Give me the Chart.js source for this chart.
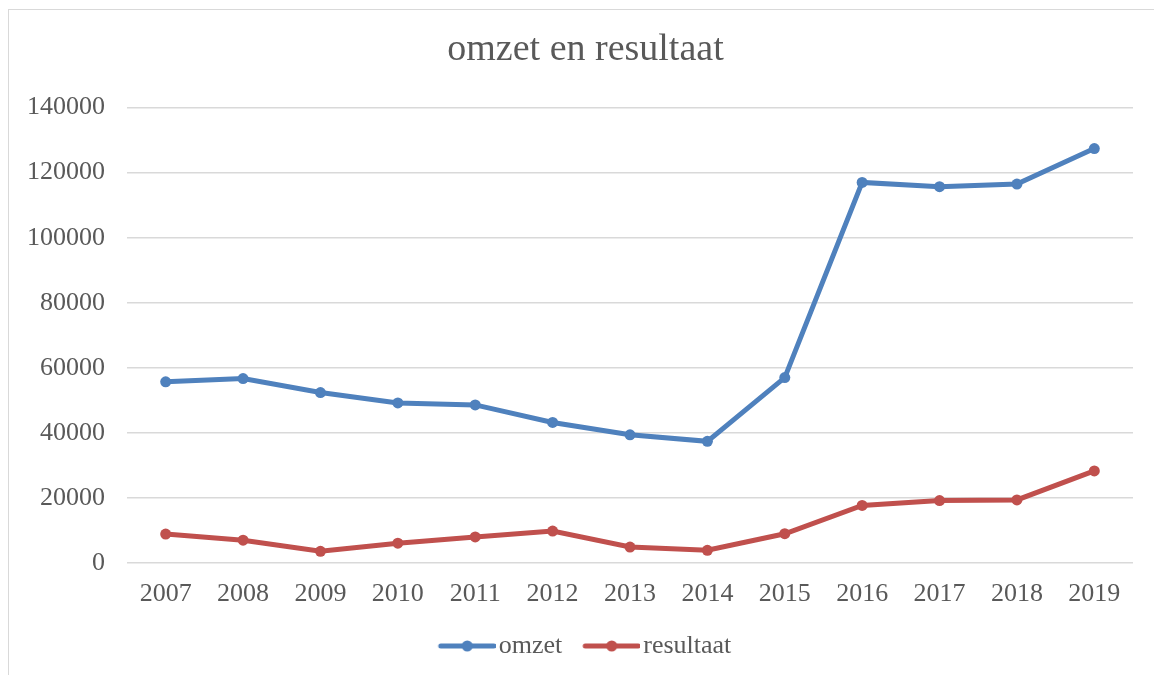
<!DOCTYPE html>
<html>
<head>
<meta charset="utf-8">
<script src="https://cdn.jsdelivr.net/npm/chart.js@4/dist/chart.umd.min.js"></script>
<style>
  html, body { margin: 0; padding: 0; background: #fff; overflow: hidden; }
  #wrap { position: relative; width: 1154px; height: 675px; overflow: hidden; }
  #frame { position: absolute; left: 8px; top: 9px; width: 1200px; height: 700px; border: 1px solid #d9d9d9; box-sizing: border-box; }
  canvas { position: absolute; left: 0; top: 0; }
</style>
</head>
<body>
<div id="wrap">
  <div id="frame"></div>
  <canvas id="c" width="1154" height="675"></canvas>
</div>
<script>
const titleText = "omzet en resultaat";
const years = ["2007","2008","2009","2010","2011","2012","2013","2014","2015","2016","2017","2018","2019"];
const omzet = [55700, 56700, 52400, 49200, 48600, 43200, 39400, 37400, 57000, 117000, 115700, 116500, 127400];
const resultaat = [8900, 7000, 3600, 6100, 8000, 9800, 4900, 3900, 9000, 17700, 19200, 19400, 28300];
const yTicks = [0, 20000, 40000, 60000, 80000, 100000, 120000, 140000];

const blue = "#4f81bd";
const red = "#c0504d";
const textCol = "#595959";
const gridCol = "#d9d9d9";
const fontFam = "'Liberation Serif', 'Times New Roman', serif";

function legendImage(color) {
  const c = document.createElement('canvas');
  c.width = 80; c.height = 14;
  const g = c.getContext('2d');
  g.strokeStyle = color; g.lineWidth = 5; g.lineCap = 'round';
  g.beginPath(); g.moveTo(25, 7); g.lineTo(78, 7); g.stroke();
  g.fillStyle = color;
  g.beginPath(); g.arc(51.5, 7, 5.5, 0, Math.PI * 2); g.fill();
  return c;
}
const legendImgs = [legendImage(blue), legendImage(red)];

const shiftBlocks = {
  id: 'shiftBlocks',
  afterLayout(chart) {
    if (chart.titleBlock) chart.titleBlock.left += 38;
    if (chart.legend) chart.legend.left += 24;
  }
};

new Chart(document.getElementById('c'), {
  type: 'line',
  data: {
    labels: years,
    datasets: [
      { label: 'omzet', data: omzet, borderColor: blue, backgroundColor: blue, borderWidth: 5, pointRadius: 5.5, pointHoverRadius: 5.5, pointBackgroundColor: blue, pointBorderWidth: 0, tension: 0 },
      { label: 'resultaat', data: resultaat, borderColor: red, backgroundColor: red, borderWidth: 5, pointRadius: 5.5, pointHoverRadius: 5.5, pointBackgroundColor: red, pointBorderWidth: 0, tension: 0 }
    ]
  },
  plugins: [shiftBlocks],
  options: {
    responsive: false,
    animation: false,
    layout: { padding: { left: 0, right: 21, top: 0, bottom: 6 } },
    plugins: {
      title: {
        display: true, text: titleText, color: textCol,
        font: { family: fontFam, size: 38, weight: 'normal' },
        padding: { top: 27, bottom: 35 }
      },
      legend: {
        position: 'bottom',
        labels: {
          color: textCol,
          font: { family: fontFam, size: 26 },
          usePointStyle: true,
          pointStyleWidth: 60,
          padding: 8,
          generateLabels(chart) {
            const items = Chart.defaults.plugins.legend.labels.generateLabels(chart);
            items.forEach((it, i) => { it.pointStyle = legendImgs[i]; });
            return items;
          }
        }
      },
      tooltip: { enabled: false }
    },
    scales: {
      x: {
        offset: true,
        grid: { display: false, drawTicks: false },
        border: { display: false },
        ticks: { color: textCol, font: { family: fontFam, size: 26 }, padding: 16, maxRotation: 0, autoSkip: false },
        afterFit(s) { s.height = 62; }
      },
      y: {
        min: 0, max: 140000,
        afterBuildTicks(s) { s.ticks = yTicks.map(v => ({ value: v })); },
        grid: { color: gridCol, lineWidth: 1.5, drawTicks: false },
        border: { display: false },
        ticks: { color: textCol, font: { family: fontFam, size: 26 }, padding: 22, callback: v => String(v) },
        afterFit(s) { s.width = 127; }
      }
    }
  }
});
</script>
</body>
</html>
